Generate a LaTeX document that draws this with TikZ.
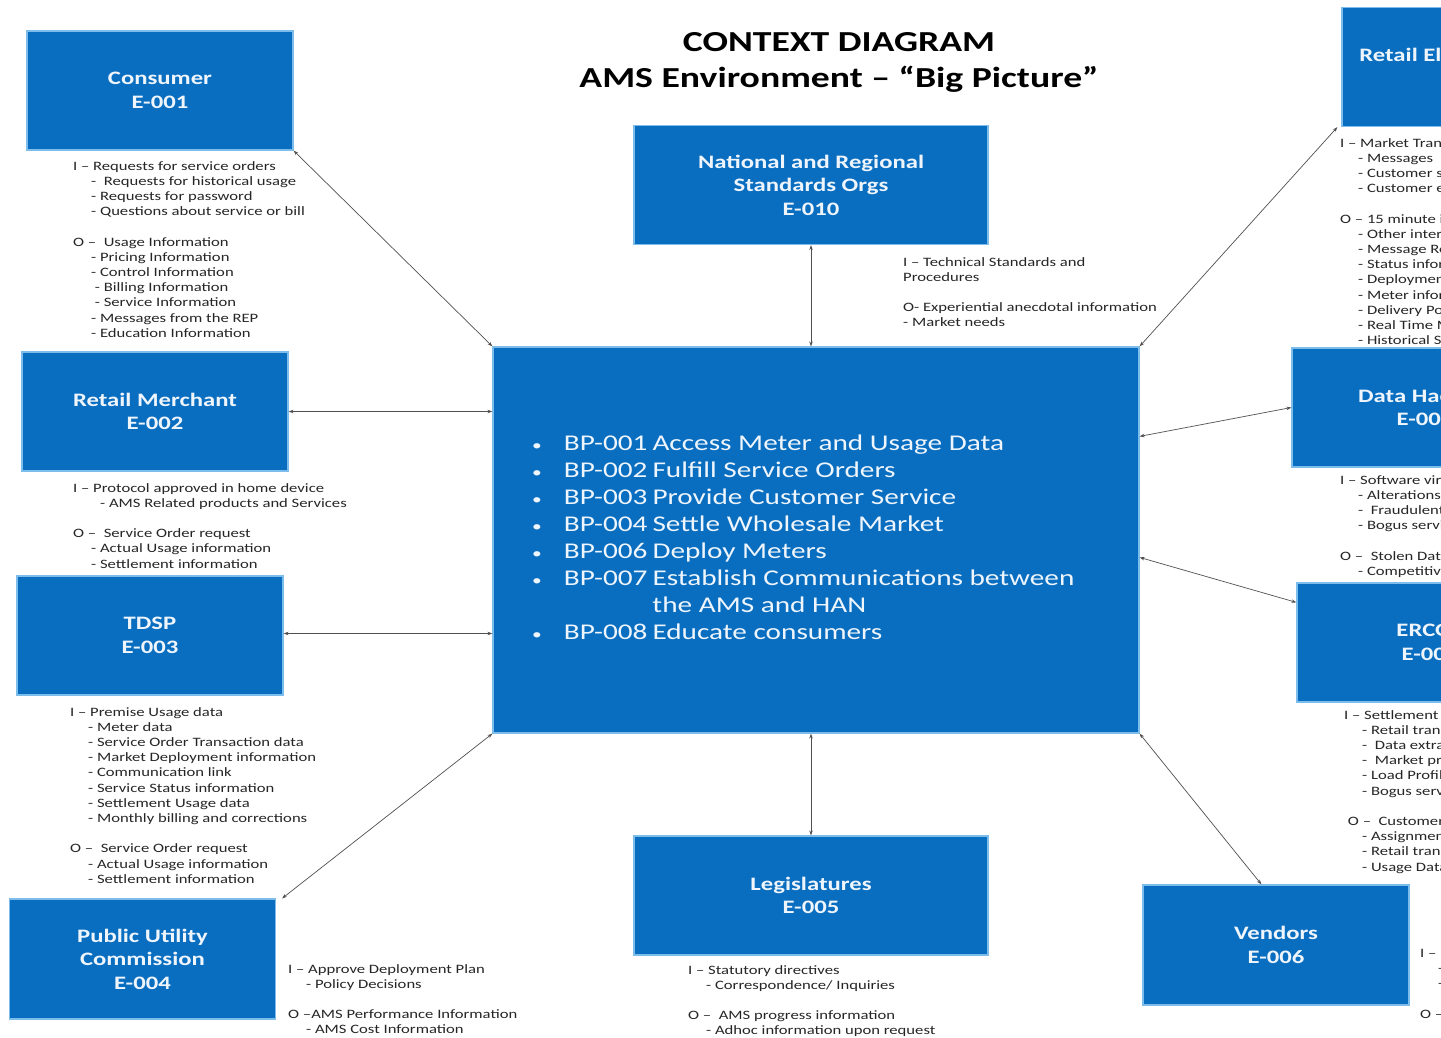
\documentclass[tikz,border=0pt]{standalone}
\usepackage{fontspec}
\setmainfont{Carlito}[FakeStretch=1.3]
\usetikzlibrary{arrows.meta}

\definecolor{boxblue}{HTML}{0A6EC0}
\definecolor{boxedge}{HTML}{7DBDEB}
\definecolor{boxtext}{HTML}{EEF5FC}
\definecolor{inktext}{HTML}{262626}
\definecolor{linkgray}{HTML}{505050}

\tikzset{
  entity/.style={rectangle, fill=boxblue, draw=boxedge, line width=1.2pt,
    text=boxtext, font=\bfseries\fontsize{19}{23.5}\selectfont,
    align=center, inner sep=0pt, minimum width=266pt, minimum height=119pt},
  wide/.style={minimum width=354pt},
  core/.style={rectangle, fill=boxblue, draw=boxedge, line width=1.2pt,
    minimum width=646pt, minimum height=386pt, inner sep=0pt},
  corelist/.style={text=boxtext, font=\fontsize{22.5}{27}\selectfont,
    anchor=west, inner sep=0pt},
  flows/.style={text=inktext, font=\fontsize{12.8}{15.2}\selectfont,
    align=left, anchor=north west, inner sep=0pt},
  heading/.style={text=black, font=\bfseries\fontsize{29}{36}\selectfont,
    align=center, inner sep=0pt},
  link/.style={draw=linkgray, line width=0.7pt,
    {Stealth[length=5pt,width=3.5pt]}-{Stealth[length=5pt,width=3.5pt]}}
}
\newcommand{\ind}{\hspace*{18pt}}
\newcommand{\gap}{\\[15.2pt]}
\newcommand{\bpmark}{{\fontsize{15}{15}\selectfont •}}

\begin{document}
\begin{tikzpicture}[x=1pt,y=-1pt]
\useasboundingbox (0,0) rectangle (1441,1038);
\clip (0,0) rectangle (1441,1038);
\fill[white] (0,0) rectangle (1441,1038);

% title
\node[heading] (title) at (839,62) {CONTEXT DIAGRAM\\AMS Environment – “Big Picture”};

% central system
\node[core] (ams) at (816,540) {};
\node[corelist] (amslist) at (532,540) {%
  \begin{tabular}{@{}l@{\hspace{22pt}}l@{\hspace{5pt}}l@{}}
  \bpmark & BP-001 & Access Meter and Usage Data\\
  \bpmark & BP-002 & Fulfill Service Orders\\
  \bpmark & BP-003 & Provide Customer Service\\
  \bpmark & BP-004 & Settle Wholesale Market\\
  \bpmark & BP-006 & Deploy Meters\\
  \bpmark & BP-007 & Establish Communications between\\
          &        & the AMS and HAN\\
  \bpmark & BP-008 & Educate consumers
  \end{tabular}};

% external entities
\node[entity] (consumer) at (160,90.5) {Consumer\\E-001};
\node[entity,wide] (std) at (811,185) {National and Regional\\Standards Orgs\\E-010};
\node[entity] (rep) at (1475,67) {Retail Electric Provider\\E-007};
\node[entity] (merchant) at (155,411.5) {Retail Merchant\\E-002};
\node[entity] (hack) at (1425,407.5) {Data Hackers\\E-008};
\node[entity] (tdsp) at (150,635.5) {TDSP\\E-003};
\node[entity] (ercot) at (1430,642.5) {ERCOT\\E-009};
\node[entity,minimum height=120pt] (puc) at (142.5,959) {Public Utility\\Commission\\E-004};
\node[entity,wide] (leg) at (811,895.5) {Legislatures\\E-005};
\node[entity,minimum height=120pt] (vend) at (1276,945) {Vendors\\E-006};

% connectors
\draw[link] (consumer.south east) -- (ams.north west);
\draw[link] (std.south) -- (std.south |- ams.north);
\draw[link] (ams.north east) -- ([xshift=-4pt]rep.south west);
\draw[link] (merchant.east) -- (merchant.east -| ams.west);
\draw[link] ([yshift=-90pt]ams.north east) -- (hack.west);
\draw[link] ([yshift=2pt]tdsp.east) -- ([yshift=2pt]tdsp.east -| ams.west);
\draw[link] ([yshift=-211pt]ams.north east) -- ([yshift=-20pt]ercot.north west);
\draw[link] (ams.south west) -- ([xshift=6pt]puc.north east);
\draw[link] (leg.north) -- (leg.north |- ams.south);
\draw[link] (ams.south east) -- ([xshift=119pt]vend.north west);

% data flows
\node[flows] (fconsumer) at (73,161) {I – Requests for service orders\\
\ind -\ \ Requests for historical usage\\
\ind - Requests for password\\
\ind - Questions about service or bill\gap
O –\ \ Usage Information\\
\ind - Pricing Information\\
\ind - Control Information\\
\ind\ - Billing Information\\
\ind\ - Service Information\\
\ind - Messages from the REP\\
\ind - Education Information};

\node[flows] (fmerchant) at (73,483) {I – Protocol approved in home device\\
\hspace*{27pt}- AMS Related products and Services\gap
O –\ \ Service Order request\\
\ind - Actual Usage information\\
\ind - Settlement information};

\node[flows] (ftdsp) at (70,707) {I – Premise Usage data\\
\ind - Meter data\\
\ind - Service Order Transaction data\\
\ind - Market Deployment information\\
\ind - Communication link\\
\ind - Service Status information\\
\ind - Settlement Usage data\\
\ind - Monthly billing and corrections\gap
O –\ \ Service Order request\\
\ind - Actual Usage information\\
\ind - Settlement information};

\node[flows] (fpuc) at (288,964) {I – Approve Deployment Plan\\
\ind - Policy Decisions\gap
O –AMS Performance Information\\
\ind - AMS Cost Information};

\node[flows] (fleg) at (688,965) {I – Statutory directives\\
\ind - Correspondence/ Inquiries\gap
O –\ \ AMS progress information\\
\ind - Adhoc information upon request};

\node[flows] (fstd) at (903,257) {I – Technical Standards and\\
Procedures\gap
O- Experiential anecdotal information\\
- Market needs};

\node[flows] (frep) at (1340,138) {I – Market Transactions\\
\ind - Messages\\
\ind - Customer switching\\
\ind - Customer enrollment\gap
O – 15 minute interval data\\
\ind - Other interval data\\
\ind - Message Responses\\
\ind - Status information\\
\ind - Deployment information\\
\ind - Meter information\\
\ind - Delivery Point information\\
\ind - Real Time Meter reads\\
\ind - Historical Settlement data};

\node[flows] (fhack) at (1340,475) {I – Software viruses\\
\ind - Alterations\\
\ind -\ \ Fraudulent\\
\ind - Bogus service\gap
O –\ \ Stolen Data\\
\ind - Competitive};

\node[flows] (fercot) at (1344,710) {I – Settlement\\
\ind - Retail transactions\\
\ind -\ \ Data extracts\\
\ind -\ \ Market prices\\
\ind - Load Profiles\\
\ind - Bogus service\gap
\ O –\ \ Customer\\
\ind - Assignment\\
\ind - Retail transactions\\
\ind - Usage Data};

\node[flows] (fvend) at (1420,949) {I – Meters\\
\ind - Hardware\\
\ind - Software\gap
O – Status};
\end{tikzpicture}
\end{document}
